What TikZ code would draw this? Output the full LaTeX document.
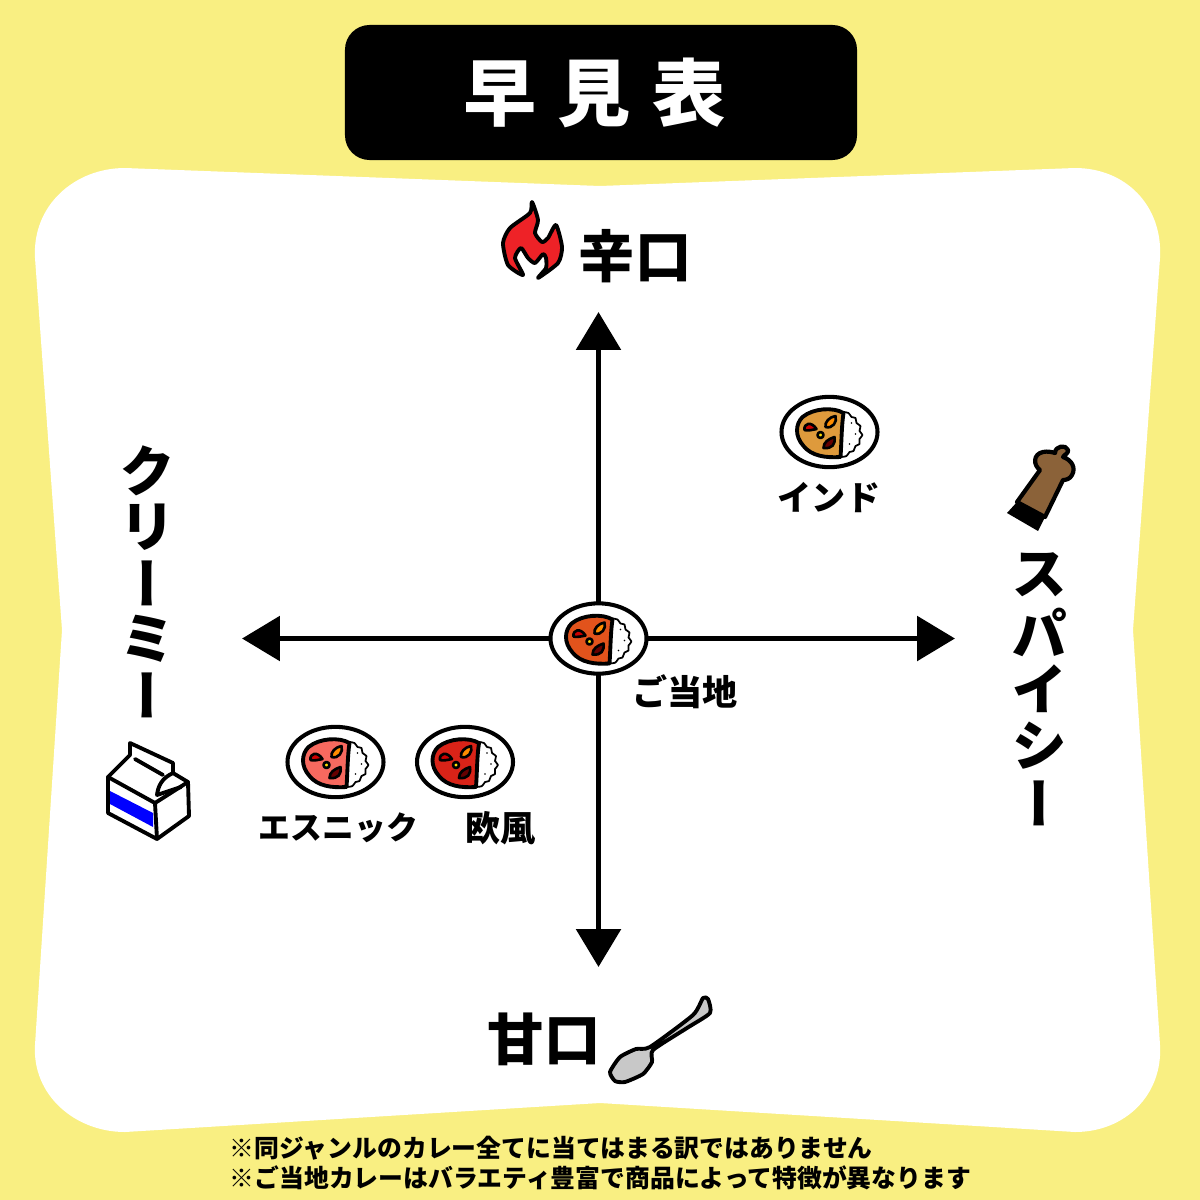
\documentclass[tikz,border=0pt]{standalone}
\usepackage{fontspec}
\usetikzlibrary{arrows.meta, shapes.geometric}
\newfontfamily\jpfont{Noto Sans CJK JP}
\newfontfamily\jpvert[RawFeature=+vert]{Noto Sans CJK JP}
\definecolor{bgyellow}{HTML}{F9EF82}
\definecolor{curryA}{HTML}{DE9A3C}
\definecolor{curryB}{HTML}{E2531C}
\definecolor{curryC}{HTML}{F7695F}
\definecolor{curryD}{HTML}{D92318}
\definecolor{fireRed}{HTML}{EE2227}
\definecolor{millBrown}{HTML}{8B6239}
\definecolor{spoonGrey}{HTML}{C8C8C8}
\tikzset{
  outline/.style={draw=black, line width=1.1pt, line join=round, line cap=round},
  topping/.style={draw=black, line width=0.75pt, line join=round},
  axis/.style={draw=black, line width=1.7pt, -{Triangle[length=10.8pt, width=12.5pt]}},
  plate/.style={ellipse, draw=black, fill=white, line width=1.15pt, minimum width=27.3pt, minimum height=20pt, inner sep=0pt},
  biglabel/.style={font=\jpfont\bfseries\fontsize{16}{17}\selectfont, inner sep=0pt},
  vertlabel/.style={font=\jpvert\bfseries\fontsize{16}{17}\selectfont, inner sep=0pt},
  smalllabel/.style={font=\jpfont\bfseries\fontsize{10}{11}\selectfont, inner sep=0pt},
  notelabel/.style={font=\jpfont\bfseries\fontsize{7.06}{8}\selectfont, inner sep=0pt, anchor=west},
  curryplate/.pic={
    \draw[outline, fill=white, line width=0.5pt] plot[smooth, tension=0.6] coordinates {(14,-20) (19,-19) (22,-15) (26,-14) (27,-9) (31,-6) (30,-1) (33,3) (30,7) (30,12) (26,14) (24,19) (20,20) (17,24) (11,25)};
    \fill[black] (22,-9) circle[radius=0.8] (26,2) circle[radius=0.8] (20,12) circle[radius=0.8];
    \draw[outline, fill=#1] (14,-19) .. controls (4,-25) and (-16,-24) .. (-27,-15) .. controls (-34,-8) and (-35,4) .. (-26,14) .. controls (-18,24) and (-4,26) .. (11,25) .. controls (12,12) and (12,-6) .. (14,-19) -- cycle;
    \draw[topping, fill=red!80!black] (-25,-2) .. controls (-26,-9) and (-18,-11) .. (-13,-3) .. controls (-18,-2) and (-22,-1) .. (-25,-2) -- cycle;
    \draw[topping, fill=orange!90!yellow] (-4,-5) .. controls (-5,-10) and (0,-15) .. (6,-16) .. controls (8,-10) and (3,-3) .. (-4,-5) -- cycle;
    \draw[topping, fill=yellow!80!orange] (-9,3) circle[radius=3];
    \draw[topping, fill=red!40!black] (-6,16) .. controls (-6,10) and (-1,7) .. (5,5) .. controls (6,12) and (3,17) .. (-6,16) -- cycle;
  }
}
\begin{document}
\begin{tikzpicture}[x=0.01cm, y=-0.01cm, line join=round, line cap=round]
\useasboundingbox (0,0) rectangle (1200,1200);
\fill[bgyellow] (0,0) rectangle (1200,1200);
\fill[white] (35,258) .. controls (32,205) and (75,168) .. (125,168) -- (600,186) -- (1075,168)
  .. controls (1125,168) and (1163,205) .. (1160,258) -- (1133,630) -- (1160,1045)
  .. controls (1163,1095) and (1125,1132) .. (1075,1132) -- (600,1103) -- (125,1132)
  .. controls (75,1132) and (32,1095) .. (35,1045) -- (62,630) -- cycle;

\node[fill=black, rounded corners=7pt, minimum width=145.6pt, minimum height=38.4pt, inner sep=0pt, text=white, font=\jpfont\bfseries\fontsize{20.8}{21}\selectfont] (title) at (601,92.5) {早\hspace{6pt}見\hspace{6pt}表\hspace{3.7pt}\null};

\coordinate (topEnd) at (598.5,312);
\coordinate (bottomEnd) at (598.5,967);
\coordinate (leftEnd) at (242,638.5);
\coordinate (rightEnd) at (955,638.5);
\node[plate] (plateLocal) at (598.5,638.5) {};
\node[plate] (plateIndia) at (829.5,432) {};
\node[plate] (plateEthnic) at (335.5,762) {};
\node[plate] (plateEuro) at (465,762) {};
\draw[axis] (plateLocal) -- (topEnd);
\draw[axis] (plateLocal) -- (bottomEnd);
\draw[axis] (plateLocal) -- (leftEnd);
\draw[axis] (plateLocal) -- (rightEnd);
\pic at (plateLocal.center) {curryplate=curryB};
\pic at (plateIndia.center) {curryplate=curryA};
\pic at (plateEthnic.center) {curryplate=curryC};
\pic at (plateEuro.center) {curryplate=curryD};

\node[smalllabel, font=\jpfont\bfseries\fontsize{9.7}{10}\selectfont] (labelIndia) at (829,498) {インド};
\node[smalllabel] (labelLocal) at (685,692) {ご当地};
\node[smalllabel, font=\jpfont\bfseries\fontsize{9.05}{10}\selectfont] (labelEthnic) at (338.5,828) {エスニック};
\node[smalllabel] (labelEuro) at (500.5,828) {欧風};

\node[biglabel] (labelHot) at (635,256) {辛口};
\node[biglabel] (labelMild) at (544,1039) {甘口};
\foreach \ch [count=\i from 0] in {ク,リ,ー,ミ,ー} {
  \node[vertlabel] (creamy\i) at (148,{471+\i*56}) {\ch};
}
\foreach \ch [count=\i from 0] in {ス,パ,イ,シ,ー} {
  \node[vertlabel] (spicy\i) at (1040,{575+\i*57}) {\ch};
}

\draw[outline, fill=fireRed, line width=1.1pt] plot[smooth cycle, tension=0.4] coordinates {(532,202) (538,220) (535,233) (542,242) (548,238) (556,225) (562,247) (558,263) (538,278) (546,268) (546,258) (543,254) (535,263) (528,258) (521,248) (515,258) (523,275) (508,265) (503,243) (510,228) (530,213)};

\draw[outline, fill=millBrown, line width=1.2pt] (1017,502) -- (1040,470) .. controls (1033,465) and (1033,454) .. (1043,452) .. controls (1047,451) and (1052,452) .. (1055,453)
  .. controls (1055,446) and (1066,444) .. (1068,450) .. controls (1069,453) and (1064,455) .. (1063,457)
  .. controls (1072,460) and (1076,468) .. (1072,475) .. controls (1070,479) and (1066,480) .. (1063,480) -- (1045,517) -- cycle;
\fill[black] (1017,502) -- (1045,517) -- (1038,531) -- (1007,513) -- cycle;

\fill[blue] (110,791) -- (153,813) -- (153,827) -- (110,804) -- cycle;
\draw[outline] (130,743) -- (130,755) -- (108,777) -- (108,813) -- (157,839) -- (189,816) -- (188,782) -- (173,773) -- (173,763) -- cycle;
\draw[outline] (108,777) -- (155,803) -- (188,782);
\draw[outline] (155,803) -- (157,839);
\draw[outline] (135,759) -- (163,775);
\draw[outline] (173,773) .. controls (162,778) and (158,786) .. (157,795) -- (181,787);

\draw[outline, fill=spoonGrey, line width=1.1pt] plot[smooth cycle, tension=0.35] coordinates {(650,1047) (636,1049) (620,1057) (610,1072) (615,1081) (625,1082) (643,1074) (652,1062) (653,1050) (687,1028) (710,1013) (708,999) (703,998) (693,1015)};

\node[notelabel] (noteA) at (229,1148) {※同ジャンルのカレー全てに当てはまる訳ではありません};
\node[notelabel] (noteB) at (229,1178) {※ご当地カレーはバラエティ豊富で商品によって特徴が異なります};
\end{tikzpicture}
\end{document}
